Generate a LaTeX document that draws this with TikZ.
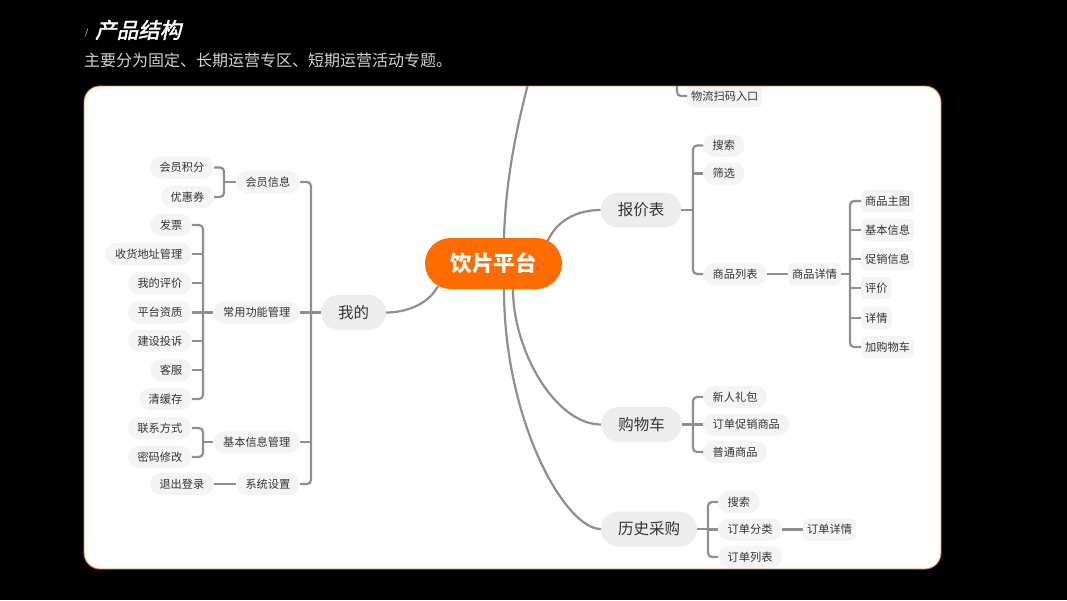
\documentclass[tikz,border=0pt]{standalone}
\usepackage{fontspec}
\setmainfont{Noto Sans CJK SC}
\newfontfamily\cjk{Noto Sans CJK SC}
\newfontfamily\cjkit[FakeSlant=0.22,FakeBold=2]{Noto Sans CJK SC}
\usetikzlibrary{calc}
\definecolor{org}{HTML}{FF6D00}
\definecolor{cardline}{HTML}{E07A2E}
\definecolor{lnc}{HTML}{8F8F8F}
\definecolor{fone}{HTML}{EDEDED}
\definecolor{ftwo}{HTML}{F4F4F4}
\definecolor{txt}{HTML}{333333}
\definecolor{subc}{HTML}{D2D2D2}
\begin{document}
\begin{tikzpicture}[x=1pt,y=-1pt,
 root/.style={fill=org,text=white,font=\cjk\bfseries\fontsize{21.5pt}{24pt}\selectfont,rounded corners=25.5pt,minimum height=51pt,minimum width=137pt,inner sep=0pt},
 lone/.style={fill=fone,text=txt,font=\fontsize{15.5pt}{18pt}\selectfont,rounded corners=17.5pt,minimum height=35pt,inner xsep=17pt,inner ysep=0pt},
 ltwo/.style={fill=ftwo,text=txt,font=\fontsize{11.2pt}{13pt}\selectfont,rounded corners=11pt,minimum height=22pt,inner xsep=9.5pt,inner ysep=0pt},
 lthree/.style={ltwo,rounded corners=5pt,inner xsep=4pt},
 ln/.style={draw=lnc,line width=2.2pt},
 br/.style={ln,rounded corners=4pt}]
\useasboundingbox (0,0) rectangle (1067,600);
\fill[black] (0,0) rectangle (1067,600);
% title
\node[anchor=west,text=white,font=\fontsize{8pt}{9pt}\selectfont,inner sep=0pt] (sla) at (85,33) {/};
\node[anchor=west,text=white,font=\cjkit\fontsize{21.5pt}{24pt}\selectfont,inner sep=0pt] (tt) at (95,30) {产品结构};
\node[anchor=west,text=subc,font=\fontsize{16pt}{18pt}\selectfont,inner sep=0pt] (st) at (84,60) {主要分为固定、长期运营专区、短期运营活动专题。};
% card
\fill[white,rounded corners=16pt] (84,86) rectangle (941,569);
\begin{scope}
\clip[rounded corners=16pt] (84,86) rectangle (941,569);
% root and level 1
\node[root] (root) at (493.5,263.5) {饮片平台};
\node[lone] (wd) at (353.5,312.5) {我的};
\node[lone] (bj) at (641,210) {报价表};
\node[lone] (gw) at (641.5,424.5) {购物车};
\node[lone] (ls) at (649,529) {历史采购};
% left side
\node[ltwo,anchor=east] (hy) at (300,182) {会员信息};
\node[ltwo,anchor=east] (cy) at (300,312.5) {常用功能管理};
\node[ltwo,anchor=east] (jb) at (300,442) {基本信息管理};
\node[ltwo,anchor=east] (xs) at (300,484) {系统设置};
\node[ltwo,anchor=east] (jf) at (214,167.5) {会员积分};
\node[ltwo,anchor=east] (yh) at (214,197) {优惠券};
\node[ltwo,anchor=east] (fp) at (192,225) {发票};
\node[ltwo,anchor=east] (sh) at (192,254) {收货地址管理};
\node[ltwo,anchor=east] (pj) at (192,283) {我的评价};
\node[ltwo,anchor=east] (zz) at (192,312.5) {平台资质};
\node[ltwo,anchor=east] (ts) at (192,341) {建设投诉};
\node[ltwo,anchor=east] (kf) at (192,370) {客服};
\node[ltwo,anchor=east] (qh) at (192,399) {清缓存};
\node[ltwo,anchor=east] (lx) at (192,428) {联系方式};
\node[ltwo,anchor=east] (mm) at (192,457) {密码修改};
\node[ltwo,anchor=east] (tc) at (214,484) {退出登录};
% right side
\node[lthree,anchor=west] (wl) at (687,96) {物流扫码入口};
\node[ltwo,anchor=west] (ss) at (703,145.5) {搜索};
\node[ltwo,anchor=west] (sx) at (703,173.5) {筛选};
\node[ltwo,anchor=west] (sl) at (703,274) {商品列表};
\node[lthree,anchor=west] (sd) at (788,274) {商品详情};
\node[lthree,anchor=west] (da) at (861,201) {商品主图};
\node[lthree,anchor=west] (db) at (861,230) {基本信息};
\node[lthree,anchor=west] (dcx) at (861,259) {促销信息};
\node[lthree,anchor=west] (dd) at (861,288) {评价};
\node[lthree,anchor=west] (de) at (861,318) {详情};
\node[lthree,anchor=west] (df) at (861,347) {加购物车};
\node[ltwo,anchor=west] (xr) at (703,397) {新人礼包};
\node[ltwo,anchor=west] (dc) at (703,424.5) {订单促销商品};
\node[ltwo,anchor=west] (pt) at (703,452) {普通商品};
\node[ltwo,anchor=west] (sb) at (718,502) {搜索};
\node[ltwo,anchor=west] (fl) at (718,529.5) {订单分类};
\node[ltwo,anchor=west] (lb) at (718,557) {订单列表};
\node[lthree,anchor=west] (xq) at (803,529.5) {订单详情};
% root connectors
\draw[ln] ($(root.center)+(-55.5,22.5)$) .. controls +(-10,19) and +(19,0) .. (wd.east);
\draw[ln] ($(root.center)+(54,-22)$) .. controls +(8,-19) and +(-26,0) .. (bj.west);
\draw[ln] ($(root.south)+(19.5,0)$) .. controls +(0,61) and +(-46,0) .. (gw.west);
\draw[ln] ($(root.south)+(10.5,0)$) .. controls +(0,131) and +(-36,0) .. (ls.west);
\coordinate (up) at (540,40);
\draw[ln] ($(root.north)+(10.5,0)$) .. controls +(2,-68) and +(-20,70) .. (up);
% left brackets
\draw[br] (hy.east) -- ++(11,0) |- (xs.east);
\draw[ln] (cy.east) -- (wd.west);
\draw[ln] (jb.east) -- ++(11,0);
\draw[ln] (hy.west) -- ++(-11,0);
\draw[br] (jf.east) -- ++(10,0) |- (yh.east);
\draw[ln] (cy.west) -- ++(-10,0);
\draw[br] (fp.east) -- ++(11,0) |- (qh.east);
\foreach \n in {sh,pj,zz,ts,kf} \draw[ln] (\n.east) -- ++(11,0);
\draw[ln] (jb.west) -- ++(-10,0);
\draw[br] (lx.east) -- ++(11,0) |- (mm.east);
\draw[ln] (tc.east) -- (xs.west);
% right brackets
\coordinate (wtop) at (677,70);
\draw[br] (wtop) |- (wl.west);
\draw[ln] (bj.east) -- ++(12,0);
\draw[br] (ss.west) -- ++(-10,0) |- (sl.west);
\draw[ln] (sx.west) -- ++(-10,0);
\draw[ln] (sl.east) -- (sd.west);
\draw[ln] (sd.east) -- ++(10,0);
\draw[br] (da.west) -- ++(-11,0) |- (df.west);
\foreach \n in {db,dcx,dd,de} \draw[ln] (\n.west) -- ++(-11,0);
\draw[ln] (gw.east) -- ++(11,0);
\draw[br] (xr.west) -- ++(-10,0) |- (pt.west);
\draw[ln] (dc.west) -- ++(-10,0);
\draw[ln] (ls.east) -- ++(11,0);
\draw[br] (sb.west) -- ++(-10,0) |- (lb.west);
\draw[ln] (fl.west) -- ++(-10,0);
\draw[ln] (fl.east) -- (xq.west);
\end{scope}
\draw[cardline,line width=0.9pt,rounded corners=16pt] (84,86) rectangle (941,569);
\end{tikzpicture}
\end{document}
